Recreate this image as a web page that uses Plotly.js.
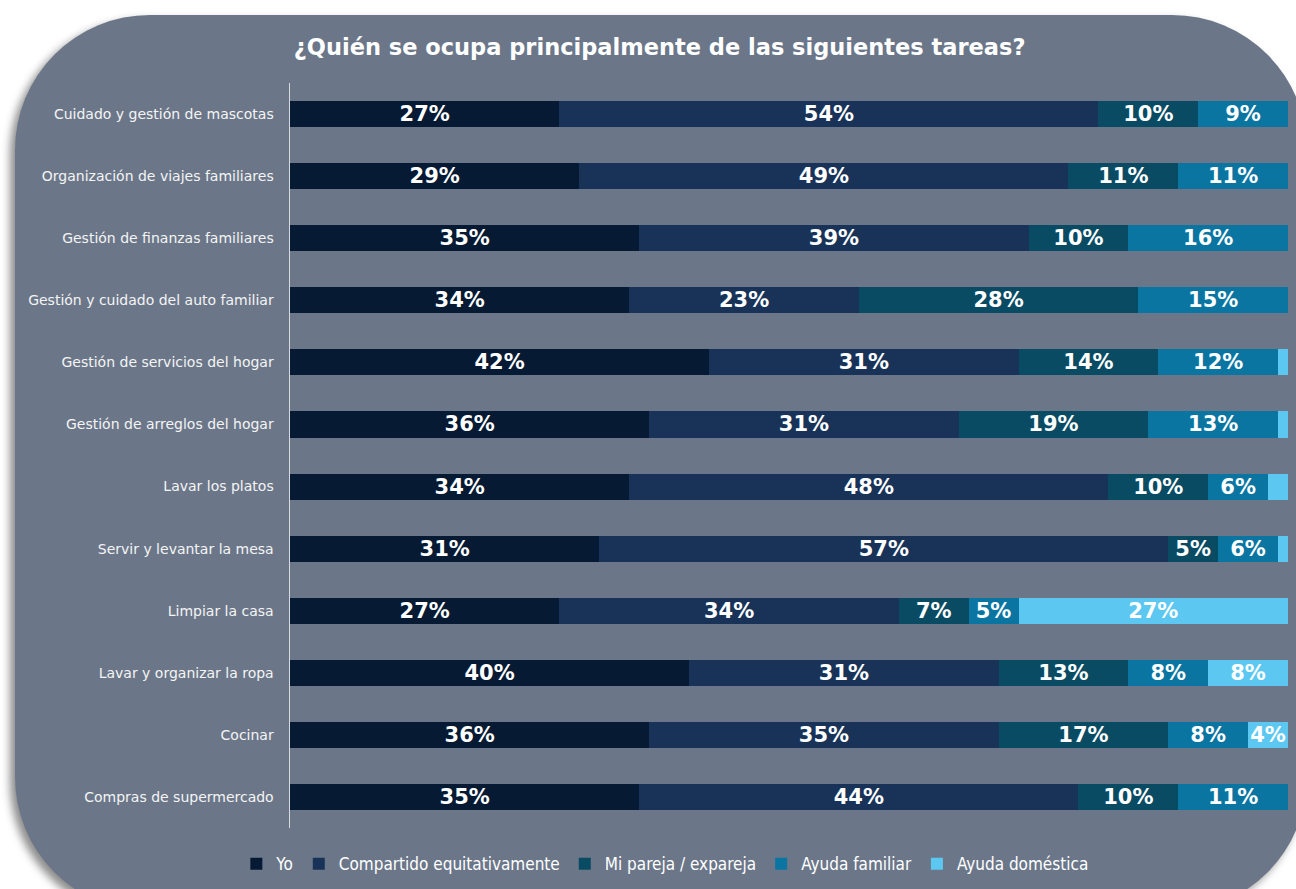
<!DOCTYPE html>
<html>
<head>
<meta charset="utf-8">
<script src="https://cdn.plot.ly/plotly-3.0.1.min.js"></script>
<style>
  html, body { margin:0; padding:0; background:#ffffff; width:1296px; height:889px; overflow:hidden; }
  #bg { position:absolute; left:15px; top:15px; width:1292px; height:897px; background:#6B7789;
        border-radius:135px; box-shadow:-5px 5px 9px rgba(0,0,0,0.45); }
  #chart { position:absolute; left:0; top:0; width:1296px; height:889px; }
</style>
</head>
<body>
<div id="bg"></div>
<div id="chart"></div>
<script>
const categories = [
  "Cuidado y gestión de mascotas",
  "Organización de viajes familiares",
  "Gestión de finanzas familiares",
  "Gestión y cuidado del auto familiar",
  "Gestión de servicios del hogar",
  "Gestión de arreglos del hogar",
  "Lavar los platos",
  "Servir y levantar la mesa",
  "Limpiar la casa",
  "Lavar y organizar la ropa",
  "Cocinar",
  "Compras de supermercado"
];
const seriesNames = ["Yo", "Compartido equitativamente", "Mi pareja / expareja", "Ayuda familiar", "Ayuda doméstica"];
const yo          = [27, 29, 35, 34, 42, 36, 34, 31, 27, 40, 36, 35];
const compartido  = [54, 49, 39, 23, 31, 31, 48, 57, 34, 31, 35, 44];
const pareja      = [10, 11, 10, 28, 14, 19, 10, 5, 7, 13, 17, 10];
const ayudaFam    = [9, 11, 16, 15, 12, 13, 6, 6, 5, 8, 8, 11];
const ayudaDom    = [0, 0, 0, 0, 1, 1, 2, 1, 27, 8, 4, 0];
const colors = ["#061A33", "#193358", "#0A4B64", "#0B75A2", "#5CC8F2"];
const allSeries = [yo, compartido, pareja, ayudaFam, ayudaDom];

const traces = allSeries.map((vals, i) => ({
  type: "bar",
  orientation: "h",
  name: seriesNames[i],
  y: categories,
  x: vals,
  marker: { color: colors[i], line: { width: 0 } },
  text: vals.map(v => v >= 4 ? v + "%" : ""),
  textposition: "inside",
  insidetextanchor: "middle",
  constraintext: "none",
  textfont: { family: "DejaVu Sans", size: 21, color: "#ffffff", weight: "bold" },
  hoverinfo: "skip"
}));

const layout = {
  width: 1296, height: 889,
  paper_bgcolor: "rgba(0,0,0,0)",
  plot_bgcolor: "rgba(0,0,0,0)",
  barmode: "stack",
  bargap: 0.58,
  margin: { l: 290, r: 8, t: 83, b: 61 },
  title: {
    text: "<b>¿Quién se ocupa principalmente de las siguientes tareas?</b>",
    font: { family: "DejaVu Sans", size: 22.5, color: "#ffffff" },
    xref: "container", x: 0.509, xanchor: "center",
    yref: "container", y: 0.947, yanchor: "middle"
  },
  xaxis: { range: [0, 100], visible: false, fixedrange: true },
  yaxis: {
    autorange: "reversed",
    showline: true, linecolor: "#d6d9de", linewidth: 1.5,
    showgrid: false, zeroline: false, ticks: "",
    ticklabelstandoff: 12,
    tickfont: { family: "DejaVu Sans", size: 14, color: "#f4f4f4" }
  },
  showlegend: true,
  legend: {
    orientation: "h",
    xref: "container", x: 0.513, xanchor: "center",
    yref: "container", y: 0.028, yanchor: "middle",
    font: { family: "DejaVu Sans Condensed", size: 17, color: "#ffffff" },
    itemwidth: 30, traceorder: "normal", bgcolor: "rgba(0,0,0,0)"
  }
};

Plotly.newPlot("chart", traces, layout, { displayModeBar: false, staticPlot: true });
</script>
</body>
</html>
